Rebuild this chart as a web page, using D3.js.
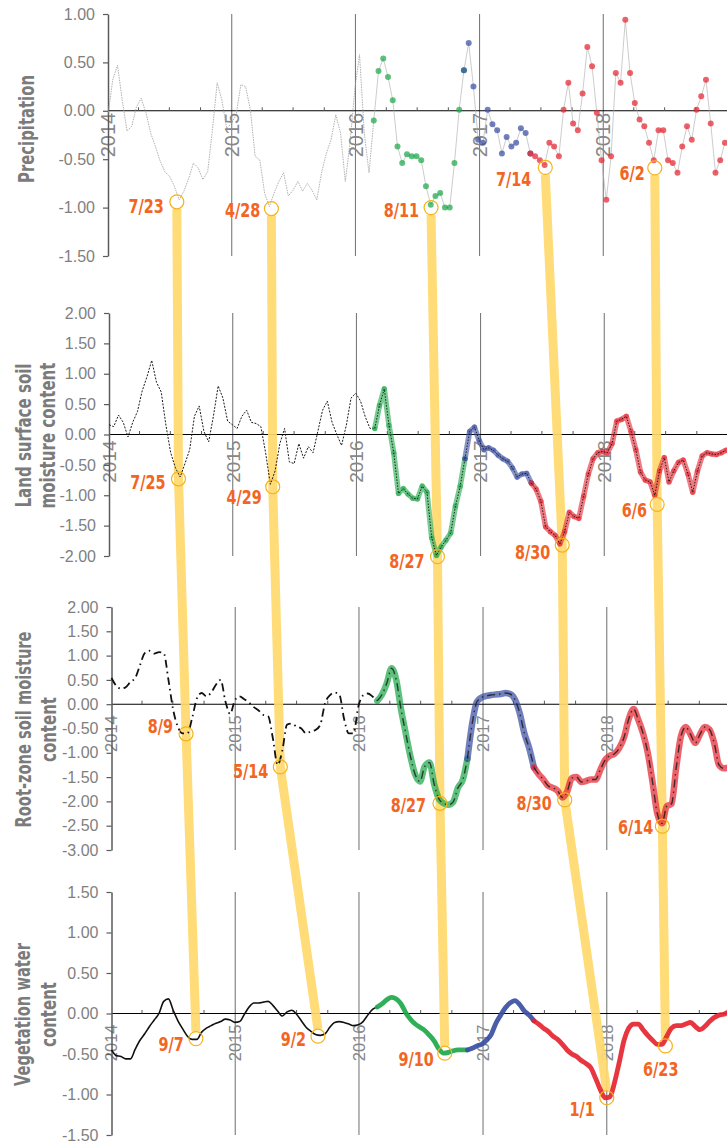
<!DOCTYPE html>
<html lang="en">
<head>
<meta charset="UTF-8">
<title>Drought indicators 2014-2018</title>
<script src="https://d3js.org/d3.v7.min.js"></script>
<style>
  body { margin: 0; background: #fff; }
  svg { display: block; }
</style>
</head>
<body>
<svg width="727" height="1142"></svg>
<script>
// anomaly series, one value every 14 days starting 2014-01-01
const startDate = "2014-01-01";
const stepDays = 14;

const precipitation = [
  -0.04, 0.32, 0.47, 0.11, -0.21, -0.16, 0.04, 0.13, -0.02, -0.23,
  -0.37, -0.52, -0.63, -0.68, -0.78, -0.92, -0.83, -0.70, -0.54, -0.59,
  -0.71, -0.63, -0.20, 0.29, 0.11, -0.18, -0.13, -0.04, 0.27, 0.25,
  0.01, -0.47, -0.51, -0.85, -0.99, -0.85, -0.73, -0.64, -0.88, -0.82,
  -0.73, -0.83, -0.75, -0.82, -0.92, -0.64, -0.44, -0.30, -0.04, -0.23,
  -0.73, -0.33, 0.22, 0.58, -0.23, -0.64, -0.10, 0.41, 0.54, 0.35,
  0.11, -0.37, -0.54, -0.45, -0.47, -0.47, -0.51, -0.78, -0.97, -0.88,
  -0.85, -1.00, -1.00, -0.54, 0.01, 0.42, 0.70, 0.25, -0.30, -0.33,
  0.01, -0.14, -0.20, -0.44, -0.27, -0.37, -0.33, -0.18, -0.23, -0.44,
  -0.47, -0.51, -0.56, -0.33, -0.37, -0.47, 0.01, 0.29, -0.13, -0.20,
  0.18, 0.66, 0.46, -0.02, -0.51, -0.92, -0.47, 0.39, 0.29, 0.94,
  0.39, 0.08, -0.09, -0.16, -0.33, -0.51, -0.20, -0.20, -0.51, -0.54,
  -0.64, -0.37, -0.16, -0.30, 0.01, 0.15, 0.32, -0.13, -0.64, -0.51,
  -0.33
];

const landSurface = [
  0.16, 0.13, 0.32, 0.20, -0.04, 0.20, 0.38, 0.72, 0.95, 1.22,
  0.86, 0.70, 0.15, -0.30, -0.55, -0.70, -0.48, -0.25, 0.30, 0.47,
  0.05, -0.12, 0.30, 0.80, 0.60, 0.22, 0.16, 0.10, 0.30, 0.40,
  0.20, 0.18, 0.13, -0.30, -0.82, -0.60, -0.15, 0.10, -0.45, -0.48,
  -0.15, -0.39, -0.20, -0.30, 0.05, 0.40, 0.55, 0.20, 0.00, -0.18,
  0.15, 0.60, 0.68, 0.55, 0.29, 0.10, 0.10, 0.48, 0.75, 0.15,
  -0.30, -0.97, -0.89, -0.98, -1.05, -1.06, -0.85, -0.95, -1.70, -1.99,
  -1.85, -1.74, -1.62, -1.18, -0.85, -0.40, 0.05, 0.12, -0.10, -0.25,
  -0.22, -0.26, -0.34, -0.40, -0.44, -0.55, -0.70, -0.65, -0.64, -0.80,
  -0.90, -1.10, -1.52, -1.60, -1.66, -1.80, -1.60, -1.28, -1.35, -1.38,
  -1.02, -0.65, -0.40, -0.30, -0.28, -0.30, -0.15, 0.22, 0.25, 0.30,
  0.05, -0.25, -0.62, -0.75, -0.78, -1.00, -0.60, -0.38, -0.78, -0.60,
  -0.46, -0.42, -0.65, -0.95, -0.60, -0.35, -0.30, -0.32, -0.33, -0.30,
  -0.26
];

const rootZone = [
  0.54, 0.38, 0.32, 0.35, 0.46, 0.54, 0.80, 1.05, 1.10, 1.04,
  1.07, 1.05, 0.50, -0.12, -0.47, -0.60, -0.60, -0.28, 0.12, 0.23,
  0.16, 0.24, 0.40, 0.50, 0.06, -0.20, 0.08, 0.16, 0.10, 0.03,
  -0.06, -0.13, -0.22, -0.25, -0.70, -1.25, -0.95, -0.42, -0.40, -0.46,
  -0.50, -0.60, -0.56, -0.53, -0.42, 0.02, 0.18, 0.24, 0.20, -0.30,
  -0.60, -0.60, -0.05, 0.18, 0.22, 0.16, 0.07, 0.20, 0.43, 0.74,
  0.50, -0.10, -0.60, -1.08, -1.45, -1.59, -1.28, -1.20, -1.65, -1.95,
  -2.04, -2.07, -2.01, -1.72, -1.56, -1.12, -0.40, 0.05, 0.14, 0.17,
  0.19, 0.20, 0.21, 0.23, 0.21, 0.10, -0.18, -0.60, -0.90, -1.30,
  -1.44, -1.55, -1.68, -1.72, -1.78, -1.92, -1.80, -1.52, -1.50, -1.60,
  -1.58, -1.55, -1.55, -1.35, -1.15, -1.06, -1.02, -0.90, -0.68, -0.30,
  -0.10, -0.32, -0.60, -1.00, -1.60, -2.25, -2.45, -2.10, -2.05, -1.30,
  -0.65, -0.47, -0.62, -0.80, -0.62, -0.47, -0.52, -0.80, -1.25, -1.32,
  -1.30
];

const vegetation = [
  -0.45, -0.52, -0.53, -0.56, -0.56, -0.44, -0.33, -0.25, -0.16, -0.08,
  0.00, 0.15, 0.18, 0.04, -0.09, -0.19, -0.28, -0.32, -0.32, -0.23,
  -0.18, -0.15, -0.12, -0.10, -0.07, -0.08, -0.11, -0.10, -0.01, 0.08,
  0.13, 0.13, 0.14, 0.15, 0.10, 0.03, -0.03, 0.02, 0.04, -0.01,
  -0.09, -0.17, -0.22, -0.26, -0.27, -0.25, -0.17, -0.11, -0.10, -0.11,
  -0.13, -0.15, -0.14, -0.10, -0.02, 0.05, 0.08, 0.12, 0.17, 0.20,
  0.18, 0.12, 0.01, -0.07, -0.13, -0.17, -0.21, -0.27, -0.34, -0.44,
  -0.49, -0.48, -0.46, -0.45, -0.45, -0.45, -0.43, -0.40, -0.38, -0.33,
  -0.26, -0.12, -0.02, 0.07, 0.13, 0.16, 0.11, 0.03, -0.02, -0.09,
  -0.13, -0.18, -0.22, -0.28, -0.32, -0.38, -0.45, -0.50, -0.53, -0.58,
  -0.62, -0.67, -0.80, -0.94, -1.04, -1.03, -0.85, -0.60, -0.33, -0.18,
  -0.13, -0.13, -0.20, -0.27, -0.33, -0.38, -0.38, -0.28, -0.18, -0.15,
  -0.15, -0.13, -0.11, -0.16, -0.20, -0.16, -0.10, -0.05, -0.02, -0.01,
  0.02
];

// colour phases: first date of green, blue, red sections
const phaseStarts = ["2016-02-24", "2016-11-05", "2017-05-18"];
const phaseColors = ["#111111", "#1fa84a", "#3a4fa2", "#e52530"];

const panelTitles = [
  ["Precipitation"],
  ["Land surface soil", "moisture content"],
  ["Root-zone soil moisture", "content"],
  ["Vegetation water", "content"]
];
const yTicks = [
  [-1.5, -1.0, -0.5, 0, 0.5, 1.0],
  [-2.0, -1.5, -1.0, -0.5, 0, 0.5, 1.0, 1.5, 2.0],
  [-3.0, -2.5, -2.0, -1.5, -1.0, -0.5, 0, 0.5, 1.0, 1.5, 2.0],
  [-1.5, -1.0, -0.5, 0, 0.5, 1.0, 1.5]
];
const years = [2014, 2015, 2016, 2017, 2018];

// marked minima, five per panel, linked down the page
const markerDates = [
  ["2014-07-23", "2015-04-28", "2016-08-11", "2017-07-14", "2018-06-02"],
  ["2014-07-25", "2015-04-29", "2016-08-27", "2017-08-30", "2018-06-06"],
  ["2014-08-09", "2015-05-14", "2016-08-27", "2017-08-30", "2018-06-14"],
  ["2014-09-07", "2015-09-02", "2016-09-10", "2018-01-01", "2018-06-23"]
];
const markerValues = [
  [-0.94, -1.01, -1.00, -0.585, -0.59],
  [-0.73, -0.86, -2.01, -1.82, -1.15],
  [-0.61, -1.29, -2.04, -1.97, -2.51],
  [-0.31, -0.28, -0.49, -1.04, -0.40]
];

// ---- layout ----
const W = 727;
const panels = [
  { left: 108,   top: 14,  bottom: 256,  domain: [-1.5, 1.0], yearSize: 20, yearGap: 2,  titleX: [34],     titleLen: [108] },
  { left: 109,   top: 313, bottom: 556,  domain: [-2.0, 2.0], yearSize: 19, yearGap: 6,  titleX: [31, 55], titleLen: [144, 146] },
  { left: 111.5, top: 607, bottom: 850,  domain: [-3.0, 2.0], yearSize: 16.5, yearGap: 11, titleX: [31, 56], titleLen: [196, 65] },
  { left: 111.5, top: 892, bottom: 1135, domain: [-1.5, 1.5], yearSize: 16.5, yearGap: 11, titleX: [30, 56], titleLen: [143, 65] }
];
// label placement relative to its circle [dx, dy], text anchored at its end
const labelNudge = [
  [[-13, 10], [-11, 7], [-12, 8], [-14, 18], [-10, 11]],
  [[-13, 9], [-11, 16], [-13, 10], [-12, 13], [-10, 12]],
  [[-13, -2], [-12, 10], [-14, 8], [-13, 9], [-9, 7]],
  [[-12, 11], [-12, 9], [-11, 12], [-12, 17], [13, 29]]
];
const condensedFont = "'Liberation Sans Narrow', 'Arial Narrow', 'DejaVu Sans Condensed', sans-serif";

const parse = d3.timeParse("%Y-%m-%d");
const fmtLabel = d3.timeFormat("%-m/%-d");
const t0 = parse(startDate);
const seriesList = [precipitation, landSurface, rootZone, vegetation];

const svg = d3.select("svg");
const gridLayer = svg.append("g");
const linkLayer = svg.append("g");
const dataLayer = svg.append("g");
const markLayer = svg.append("g");

panels.forEach((p, k) => {
  p.x = d3.scaleTime().domain([new Date(2014, 0, 1), new Date(2019, 0, 1)]).range([p.left, p.left + 619]);
  p.y = d3.scaleLinear().domain(p.domain).range([p.bottom, p.top]);
  const g = gridLayer.append("g");
  const y0 = p.y(0);

  // year grid lines
  g.selectAll("line.grid").data(years.slice(1)).join("line")
    .attr("x1", d => p.x(new Date(d, 0, 1))).attr("x2", d => p.x(new Date(d, 0, 1)))
    .attr("y1", p.top).attr("y2", p.bottom)
    .attr("stroke", "#7a7a7a").attr("stroke-width", 1.1);

  // zero line with quarterly ticks
  g.append("line").attr("x1", p.left).attr("x2", W).attr("y1", y0).attr("y2", y0)
    .attr("stroke", "#000").attr("stroke-width", 1.1);
  const quarters = d3.timeMonth.every(3).range(new Date(2014, 0, 1), new Date(2019, 0, 2))
    .filter(d => d.getMonth() !== 0);
  g.selectAll("line.q").data(quarters).join("line")
    .attr("x1", d => p.x(d)).attr("x2", d => p.x(d))
    .attr("y1", y0).attr("y2", y0 - 3.5)
    .attr("stroke", "#555").attr("stroke-width", 1);

  // rotated year labels
  g.selectAll("text.yr").data(years).join("text")
    .attr("transform", d => `translate(${p.x(new Date(d, 0, 1)) + p.yearSize * 0.36},${y0 + p.yearGap}) rotate(-90)`)
    .attr("text-anchor", "end")
    .attr("font-family", "'Liberation Sans', Arial, sans-serif")
    .attr("font-size", p.yearSize)
    .attr("fill", "#878787")
    .text(d => d);

  // y axis
  const ax = g.append("g").attr("transform", `translate(${p.left},0)`)
    .call(d3.axisLeft(p.y).tickValues(yTicks[k]).tickFormat(d => d.toFixed(2))
      .tickSize(5).tickSizeOuter(0).tickPadding(8));
  ax.select(".domain").attr("stroke", "#5a5a5a").attr("stroke-width", 1.5);
  ax.selectAll(".tick line").attr("stroke", "#5a5a5a").attr("stroke-width", 1.2);
  ax.selectAll(".tick text")
    .attr("font-family", "'Liberation Sans', Arial, sans-serif")
    .attr("font-size", 16).attr("fill", "#7f7f7f");

  // panel title
  const cy = (p.top + p.bottom) / 2 + (k === 0 ? -6 : 1);
  panelTitles[k].forEach((line, li) => {
    g.append("text")
      .attr("transform", `translate(${p.titleX[li]},${cy}) rotate(-90)`)
      .attr("text-anchor", "middle")
      .attr("font-family", condensedFont)
      .attr("font-weight", "bold")
      .attr("font-size", 21)
      .attr("fill", "#7b7b7b")
      .attr("textLength", p.titleLen[li])
      .attr("lengthAdjust", "spacingAndGlyphs")
      .text(line);
  });

  // series split into colour phases
  const pts = seriesList[k].map((v, i) => ({ date: d3.timeDay.offset(t0, i * stepDays), value: v }));
  const bounds = [0].concat(phaseStarts.map(s => d3.bisector(d => d.date).left(pts, parse(s)))).concat([pts.length - 1]);
  const curve = k >= 2 ? d3.curveMonotoneX : d3.curveLinear;
  const line = d3.line().x(d => p.x(d.date)).y(d => p.y(d.value)).curve(curve);
  const dg = dataLayer.append("g");

  phaseColors.forEach((col, ph) => {
    const seg = pts.slice(bounds[ph], bounds[ph + 1] + 1);
    if (ph === 0) {
      const path = dg.append("path").datum(seg).attr("d", line).attr("fill", "none");
      if (k === 0) path.attr("stroke", "#9d9d9d").attr("stroke-width", 0.8).attr("stroke-dasharray", "1.5,1");
      if (k === 1) path.attr("stroke", "#1a1a1a").attr("stroke-width", 1).attr("stroke-dasharray", "2,1.4");
      if (k === 2) path.attr("stroke", "#111").attr("stroke-width", 1.8).attr("stroke-dasharray", "8,4,1.5,4");
      if (k === 3) path.attr("stroke", "#111").attr("stroke-width", 1.6);
      return;
    }
    if (k === 0) {
      dg.append("path").datum(seg).attr("d", line).attr("fill", "none")
        .attr("stroke", "#aaa").attr("stroke-width", 0.6);
      dg.selectAll(null).data(seg).join("circle")
        .attr("cx", d => p.x(d.date)).attr("cy", d => p.y(d.value)).attr("r", 3)
        .attr("fill", col).attr("fill-opacity", 0.72);
    } else if (k === 1) {
      dg.append("path").datum(seg).attr("d", line).attr("fill", "none")
        .attr("stroke", col).attr("stroke-width", 5.5).attr("stroke-opacity", 0.6)
        .attr("stroke-linecap", "round").attr("stroke-linejoin", "round");
      dg.selectAll(null).data(seg).join("circle")
        .attr("cx", d => p.x(d.date)).attr("cy", d => p.y(d.value)).attr("r", 2.6)
        .attr("fill", col).attr("fill-opacity", 0.55);
      dg.append("path").datum(seg).attr("d", line).attr("fill", "none")
        .attr("stroke", "#111").attr("stroke-width", 0.9).attr("stroke-dasharray", "1.5,1.5");
    } else if (k === 2) {
      dg.append("path").datum(seg).attr("d", line).attr("fill", "none")
        .attr("stroke", col).attr("stroke-width", 6.5).attr("stroke-opacity", 0.72)
        .attr("stroke-linecap", "round").attr("stroke-linejoin", "round");
      dg.append("path").datum(seg).attr("d", line).attr("fill", "none")
        .attr("stroke", "#111").attr("stroke-opacity", 0.75).attr("stroke-width", 1.4)
        .attr("stroke-dasharray", "8,4,1.5,4");
    } else {
      dg.append("path").datum(seg).attr("d", line).attr("fill", "none")
        .attr("stroke", col).attr("stroke-width", 4.8).attr("stroke-opacity", 0.92)
        .attr("stroke-linecap", "round").attr("stroke-linejoin", "round");
    }
  });
});

// yellow links between the marked minima
const R = 7;
markerDates[0].forEach((_, j) => {
  const chain = panels.map((p, k) => [p.x(parse(markerDates[k][j])), p.y(markerValues[k][j])]);
  chain[0] = [chain[0][0], chain[0][1] + R];
  const last = chain.length - 1;
  chain[last] = [chain[last][0], chain[last][1] - R];
  linkLayer.append("path")
    .attr("d", d3.line()(chain))
    .attr("fill", "none")
    .attr("stroke", "#ffd96b")
    .attr("stroke-opacity", 0.92)
    .attr("stroke-width", 9);
});

// circles and date labels
panels.forEach((p, k) => {
  markerDates[k].forEach((ds, j) => {
    const cx = p.x(parse(ds)), cy = p.y(markerValues[k][j]);
    markLayer.append("circle").attr("cx", cx).attr("cy", cy).attr("r", R)
      .attr("fill", "none").attr("stroke", "#f5b21a").attr("stroke-width", 1.2);
    const [dx, dy] = labelNudge[k][j];
    const label = markLayer.append("text")
      .attr("x", cx + dx).attr("y", cy + dy + 1)
      .attr("text-anchor", "end")
      .attr("font-family", condensedFont)
      .attr("font-weight", "bold")
      .attr("font-size", 20)
      .attr("fill", "#f26522")
      .text(fmtLabel(parse(ds)));
    // squeeze to the narrow look of the original labels
    const natural = label.node().getComputedTextLength();
    label.attr("textLength", natural * 0.8).attr("lengthAdjust", "spacingAndGlyphs");
  });
});
</script>
</body>
</html>
